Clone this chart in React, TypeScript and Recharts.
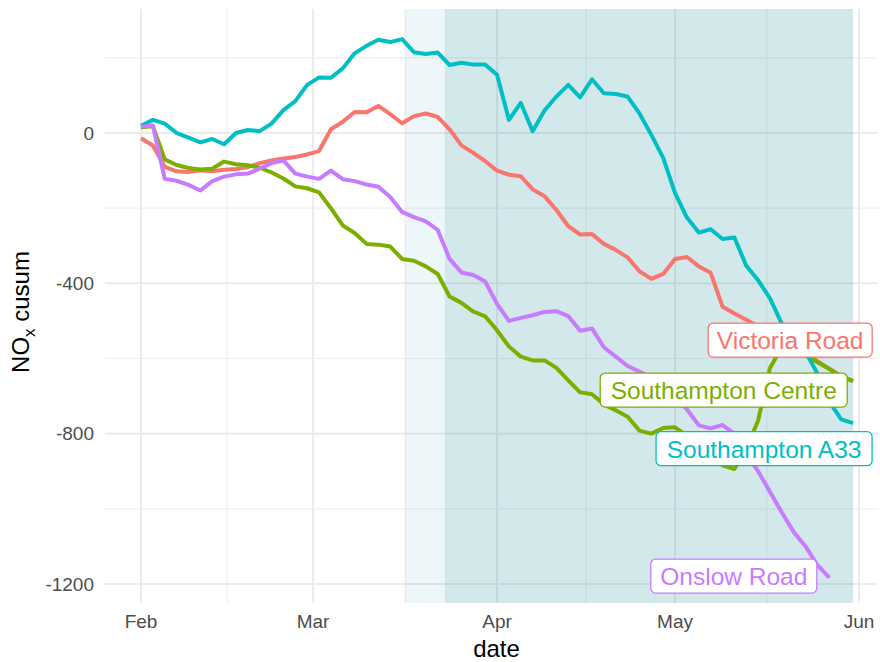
import React from "react";
import {
  LineChart,
  Line,
  XAxis,
  YAxis,
  CartesianGrid,
  ReferenceArea,
  ReferenceDot,
} from "recharts";

// days since 1 Feb 2020
const days = [
  0, 2, 4, 6, 8, 10, 12, 14, 16, 18, 20, 22, 24, 26, 28, 30, 32, 34, 36, 38,
  40, 42, 44, 46, 48, 50, 52, 54, 56, 58, 60, 62, 64, 66, 68, 70, 72, 74, 76,
  78, 80, 82, 84, 86, 88, 90, 92, 94, 96, 98, 100, 102, 104, 106, 108, 110,
  112, 114, 116, 118, 120,
];

const victoriaRoad = [
  -14, -33, -90, -102, -104, -99, -102, -98, -96, -91, -80, -73, -68, -64, -57,
  -48, 10, 30, 56, 55, 72, 50, 26, 45, 52, 43, 10, -33, -53, -75, -100, -111,
  -115, -150, -168, -205, -248, -270, -269, -295, -311, -331, -368, -388, -375,
  -335, -330, -355, -372, -462, -480, -497, -515, -530, -548, -565, -585, -607,
  -627, -647, -660,
];

const southamptonCentre = [
  15, 18, -70, -85, -93, -97, -95, -76, -83, -86, -92, -105, -121, -142, -147,
  -158, -200, -246, -266, -295, -297, -302, -335, -340, -355, -375, -435, -452,
  -475, -488, -525, -568, -595, -605, -605, -625, -658, -690, -695, -722, -738,
  -755, -792, -800, -785, -783, -805, -830, -858, -884, -894, -840, -765, -625,
  -570, -568, -592, -610, -628, -648, -660,
];

const southamptonA33 = [
  19, 35, 25, 0, -12, -25, -16, -30, 0, 8, 5, 25, 61, 85, 128, 148, 147, 172,
  212, 232, 248, 242, 250, 215, 210, 214, 181, 187, 182, 182, 155, 35, 80, 5,
  60, 97, 128, 95, 143, 106, 104, 97, 52, -5, -66, -160, -225, -265, -256,
  -282, -278, -353, -392, -440, -508, -545, -583, -640, -715, -762, -772,
];

const onslowRoad = [
  17, 20, -122, -127, -138, -153, -128, -116, -110, -108, -95, -80, -73, -108,
  -116, -122, -100, -123, -128, -137, -143, -170, -210, -224, -235, -258, -335,
  -371, -378, -395, -455, -500, -492, -485, -476, -474, -487, -526, -520, -570,
  -595, -620, -635, -650, -680, -705, -735, -778, -786, -777, -800, -855, -900,
  -955, -1010, -1062, -1100, -1150, -1183, null, null,
];

const monthTicks = [0, 29, 60, 90, 121];
const monthNames = ["Feb", "Mar", "Apr", "May", "Jun"];
const minorDays = [14.5, 44.5, 75, 105.5];
const yTicks = [-1200, -800, -400, 0];
const yMinor = [-1000, -600, -200, 200];

// shaded periods (days since 1 Feb)
const lightStart = 44.5;
const darkStart = 51.2;
const shadeEnd = 120;

const series = [
  { key: "victoria", name: "Victoria Road", color: "#F8766D" },
  { key: "centre", name: "Southampton Centre", color: "#7CAE00" },
  { key: "a33", name: "Southampton A33", color: "#00BFC4" },
  { key: "onslow", name: "Onslow Road", color: "#C77CFF" },
];

const tags = [
  { name: "Victoria Road", color: "#F8766D", day: 109.4, value: -551, w: 164 },
  { name: "Southampton Centre", color: "#7CAE00", day: 98.2, value: -684, w: 247 },
  { name: "Southampton A33", color: "#00BFC4", day: 105.0, value: -840, w: 216 },
  { name: "Onslow Road", color: "#C77CFF", day: 99.9, value: -1179, w: 166 },
];

const FONT = "'Liberation Sans', Arial, Helvetica, sans-serif";

const data = days.map((d, i) => ({
  day: d,
  victoria: victoriaRoad[i],
  centre: southamptonCentre[i],
  a33: southamptonA33[i],
  onslow: onslowRoad[i],
}));

const tagShape = (t: any) => (props: any) => {
  const { cx, cy } = props;
  const h = 34;
  const fs = 24.5;
  return (
    <g>
      <rect
        x={cx - t.w / 2}
        y={cy - h / 2}
        width={t.w}
        height={h}
        rx={5}
        ry={5}
        fill="#ffffff"
        stroke={t.color}
        strokeWidth={1.3}
      />
      <text
        x={cx}
        y={cy + fs * 0.36}
        textAnchor="middle"
        fill={t.color}
        fontSize={fs}
        fontFamily={FONT}
      >
        {t.name}
      </text>
    </g>
  );
};

const App: React.FC = () => {
  return (
    <div style={{ position: "absolute", left: 0, top: 0, width: 880, height: 662, background: "#fff" }}>
      <LineChart
        width={880}
        height={662}
        data={data}
        margin={{ top: 9, right: 2, bottom: 0, left: 0 }}
        style={{ fontFamily: FONT }}
      >
        <CartesianGrid
          stroke="#ebebeb"
          strokeWidth={2}
          horizontalValues={yTicks}
          verticalValues={monthTicks}
          syncWithTicks
        />
        <CartesianGrid
          stroke="#efefef"
          strokeWidth={1.2}
          horizontalValues={yMinor}
          verticalValues={minorDays}
          syncWithTicks
        />
        <XAxis
          dataKey="day"
          type="number"
          domain={[-6.07, 124.2]}
          allowDataOverflow
          ticks={monthTicks}
          tickFormatter={(v: number) => monthNames[monthTicks.indexOf(v)] ?? ""}
          axisLine={false}
          tickLine={false}
          tickSize={6}
          tickMargin={6}
          height={59}
          tick={{ fill: "#4d4d4d", fontSize: 19, fontFamily: FONT }}
          label={{
            content: (p: any) => {
              const vb = p.viewBox;
              return (
                <text
                  x={vb.x + vb.width / 2 + 5}
                  y={vb.y + 54}
                  textAnchor="middle"
                  fill="#000"
                  fontSize={24}
                  fontFamily={FONT}
                >
                  date
                </text>
              );
            },
          }}
        />
        <YAxis
          type="number"
          domain={[-1250.6, 330]}
          allowDataOverflow
          ticks={yTicks}
          axisLine={false}
          tickLine={false}
          tickSize={6}
          tickMargin={5}
          width={105}
          tick={{ fill: "#4d4d4d", fontSize: 19, fontFamily: FONT }}
          label={{
            content: () => (
              <text
                x={29}
                y={312}
                transform="rotate(-90, 29, 312)"
                textAnchor="middle"
                fill="#000"
                fontSize={24}
                fontFamily={FONT}
              >
                NO
                <tspan dy={6} fontSize={17}>x</tspan>
                <tspan dy={-6}> cusum</tspan>
              </text>
            ),
          }}
        />
        <ReferenceArea
          x1={lightStart}
          x2={shadeEnd}
          y1={-1250.6}
          y2={330}
          fill="#4aa8c8"
          fillOpacity={0.1}
          stroke="none"
          ifOverflow="hidden"
        />
        <ReferenceArea
          x1={darkStart}
          x2={shadeEnd}
          y1={-1250.6}
          y2={330}
          fill="#2a8a94"
          fillOpacity={0.13}
          stroke="none"
          ifOverflow="hidden"
        />
        {series.map((s) => (
          <Line
            key={s.key}
            type="linear"
            dataKey={s.key}
            name={s.name}
            stroke={s.color}
            strokeWidth={4}
            strokeLinejoin="round"
            dot={false}
            activeDot={false}
            isAnimationActive={false}
          />
        ))}
        {tags.map((t) => (
          <ReferenceDot
            key={t.name}
            x={t.day}
            y={t.value}
            r={0}
            ifOverflow="visible"
            shape={tagShape(t)}
            zIndex={2000}
          />
        ))}
      </LineChart>
    </div>
  );
};

export default App;
